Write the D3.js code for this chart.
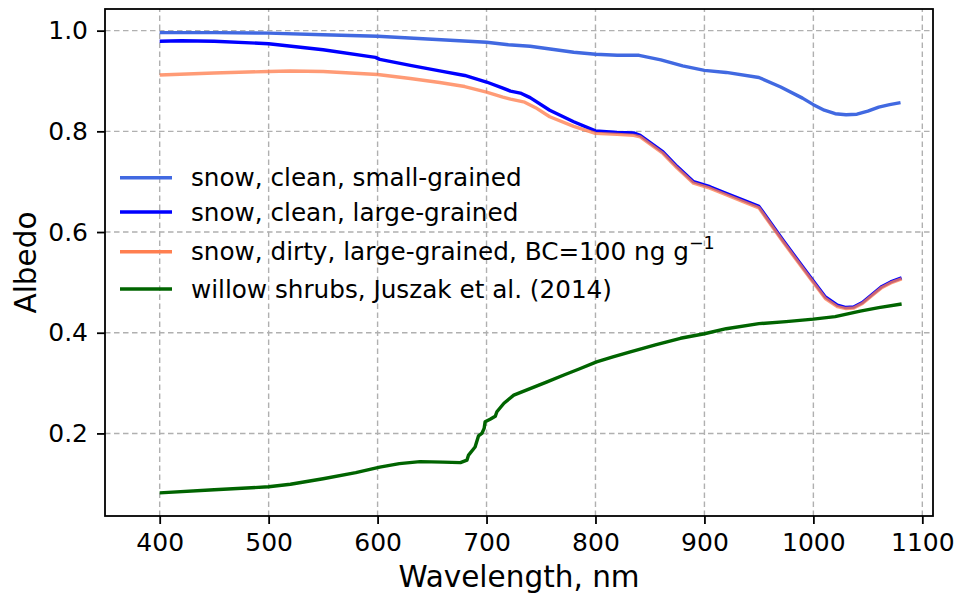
<!DOCTYPE html>
<html>
<head>
<meta charset="utf-8">
<script src="https://cdn.jsdelivr.net/npm/d3@7/dist/d3.min.js"></script>
<style>
  body { margin: 0; background: #fff; }
  svg { font-family: "DejaVu Sans", sans-serif; }
</style>
</head>
<body>
<svg id="chart" width="955" height="594"></svg>
<script>
// Spectral albedo, wavelength in nm
const smallWl  = [400, 450, 500, 550, 600, 650, 700, 720, 740, 760, 780, 800, 820, 840, 860, 880, 900, 920, 950, 970, 990, 1000, 1010, 1020, 1030, 1040, 1050, 1060, 1070, 1080];
const smallAlb = [0.996, 0.996, 0.995, 0.992, 0.989, 0.983, 0.977, 0.972, 0.969, 0.963, 0.957, 0.953, 0.951, 0.951, 0.942, 0.93, 0.921, 0.917, 0.907, 0.888, 0.866, 0.853, 0.842, 0.835, 0.833, 0.834, 0.840, 0.848, 0.853, 0.857];

const largeWl  = [400, 420, 450, 500, 550, 598, 602, 630, 657, 680, 700, 715, 722, 731, 740, 758, 780, 800, 820, 835, 841, 862, 875, 890, 905, 921, 935, 950, 972, 997, 1011, 1022, 1030, 1037, 1045, 1055, 1063, 1071, 1081];
const largeAlb = [0.979, 0.980, 0.979, 0.974, 0.962, 0.947, 0.943, 0.931, 0.920, 0.911, 0.898, 0.886, 0.880, 0.876, 0.867, 0.842, 0.819, 0.801, 0.798, 0.797, 0.792, 0.759, 0.730, 0.700, 0.690, 0.676, 0.664, 0.651, 0.584, 0.511, 0.471, 0.455, 0.450, 0.451, 0.460, 0.478, 0.492, 0.501, 0.509];

const dirtyWl  = [400, 450, 500, 520, 550, 600, 630, 657, 680, 700, 715, 722, 735, 745, 758, 780, 800, 820, 835, 841, 862, 875, 890, 905, 921, 935, 950, 972, 997, 1011, 1022, 1030, 1037, 1045, 1055, 1063, 1071, 1081];
const dirtyAlb = [0.912, 0.916, 0.919, 0.920, 0.919, 0.913, 0.905, 0.897, 0.889, 0.878, 0.868, 0.864, 0.858, 0.847, 0.829, 0.810, 0.796, 0.794, 0.792, 0.789, 0.756, 0.727, 0.697, 0.687, 0.673, 0.661, 0.648, 0.581, 0.508, 0.468, 0.452, 0.448, 0.449, 0.458, 0.476, 0.490, 0.499, 0.507];

const willowWl  = [400, 450, 500, 520, 550, 580, 602, 620, 639, 660, 676, 682, 683.5, 689.5, 692.6, 695.7, 697.8, 698.7, 703.3, 708, 709.5, 716, 725, 740, 755, 771, 785, 801, 816, 832, 855, 878, 900, 920, 950, 975, 1000, 1020, 1043, 1060, 1081];
const willowAlb = [0.082, 0.088, 0.094, 0.099, 0.110, 0.122, 0.133, 0.140, 0.144, 0.143, 0.142, 0.147, 0.157, 0.173, 0.195, 0.200, 0.210, 0.223, 0.228, 0.234, 0.243, 0.260, 0.276, 0.289, 0.302, 0.316, 0.328, 0.342, 0.352, 0.362, 0.376, 0.389, 0.398, 0.408, 0.418, 0.422, 0.427, 0.432, 0.443, 0.450, 0.457];

const xTicks = [400, 500, 600, 700, 800, 900, 1000, 1100];
const yTicks = [0.2, 0.4, 0.6, 0.8, 1.0];

const seriesNames = [
  "snow, clean, small-grained",
  "snow, clean, large-grained",
  "snow, dirty, large-grained, BC=100 ng g",
  "willow shrubs, Juszak et al. (2014)"
];
const seriesColors = ["#4169e1", "#0000ff", "#ff7f50", "#006400"];

const svg = d3.select("#chart");
const margin = { left: 105, right: 22, top: 9, bottom: 78 };
const W = 955, H = 594;

const x = d3.scaleLinear().domain([349.8, 1109.8]).range([margin.left, W - margin.right]);
const y = d3.scaleLinear().domain([0.036, 1.043]).range([H - margin.bottom, margin.top]);

// grid
const grid = svg.append("g").attr("stroke", "#b0b0b0").attr("stroke-width", 1.4)
  .attr("stroke-dasharray", "5.5,3.5");
grid.selectAll(".gx").data(xTicks).join("line")
  .attr("x1", d => x(d)).attr("x2", d => x(d))
  .attr("y1", y.range()[0]).attr("y2", y.range()[1]);
grid.selectAll(".gy").data(yTicks).join("line")
  .attr("y1", d => y(d)).attr("y2", d => y(d))
  .attr("x1", x.range()[0]).attr("x2", x.range()[1]);

// series
const line = d3.line().x(d => x(d[0])).y(d => y(d[1]));
const series = [
  { wl: smallWl, alb: smallAlb, i: 0, op: 1 },
  { wl: largeWl, alb: largeAlb, i: 1, op: 1 },
  { wl: dirtyWl, alb: dirtyAlb, i: 2, op: 0.78 },
  { wl: willowWl, alb: willowAlb, i: 3, op: 1 }
];
const plot = svg.append("g");
series.forEach(s => {
  plot.append("path")
    .datum(s.wl.map((w, k) => [w, s.alb[k]]))
    .attr("d", line)
    .attr("fill", "none")
    .attr("stroke", seriesColors[s.i])
    .attr("stroke-opacity", s.op)
    .attr("stroke-width", 3.4)
    .attr("stroke-linejoin", "round");
});

// axes
const xAxis = svg.append("g").attr("transform", `translate(0,${H - margin.bottom})`)
  .call(d3.axisBottom(x).tickValues(xTicks).tickSize(8).tickPadding(9).tickFormat(d3.format("d")));
const yAxis = svg.append("g").attr("transform", `translate(${margin.left},0)`)
  .call(d3.axisLeft(y).tickValues(yTicks).tickSize(8).tickPadding(9).tickFormat(d3.format(".1f")));
[xAxis, yAxis].forEach(a => {
  a.select(".domain").remove();
  a.selectAll(".tick line").attr("stroke", "#000").attr("stroke-width", 1.8);
  a.selectAll(".tick text").attr("font-size", 25).attr("fill", "#000")
    .attr("font-family", "DejaVu Sans, sans-serif");
});

// frame
svg.append("rect")
  .attr("x", x.range()[0]).attr("y", y.range()[1])
  .attr("width", x.range()[1] - x.range()[0]).attr("height", y.range()[0] - y.range()[1])
  .attr("fill", "none").attr("stroke", "#000").attr("stroke-width", 1.8);

// axis titles
svg.append("text").attr("x", (x.range()[0] + x.range()[1]) / 2).attr("y", 587)
  .attr("text-anchor", "middle").attr("font-size", 29.5).text("Wavelength, nm");
svg.append("text").attr("transform", `translate(36,${(y.range()[0] + y.range()[1]) / 2}) rotate(-90)`)
  .attr("text-anchor", "middle").attr("font-size", 29.5).text("Albedo");

// legend
const legendY = [177.7, 212, 251.7, 289];
const leg = svg.append("g");
seriesNames.forEach((name, i) => {
  leg.append("line").attr("x1", 120).attr("x2", 172)
    .attr("y1", legendY[i]).attr("y2", legendY[i])
    .attr("stroke", seriesColors[i]).attr("stroke-width", 3.4);
  const t = leg.append("text").attr("x", 191).attr("y", legendY[i] + 8.5)
    .attr("font-size", 24.7).attr("fill", "#000").text(name);
  if (i === 2) {
    t.append("tspan").attr("dy", -11).attr("font-size", 17.5).text("\u22121");
  }
});
</script>
</body>
</html>
